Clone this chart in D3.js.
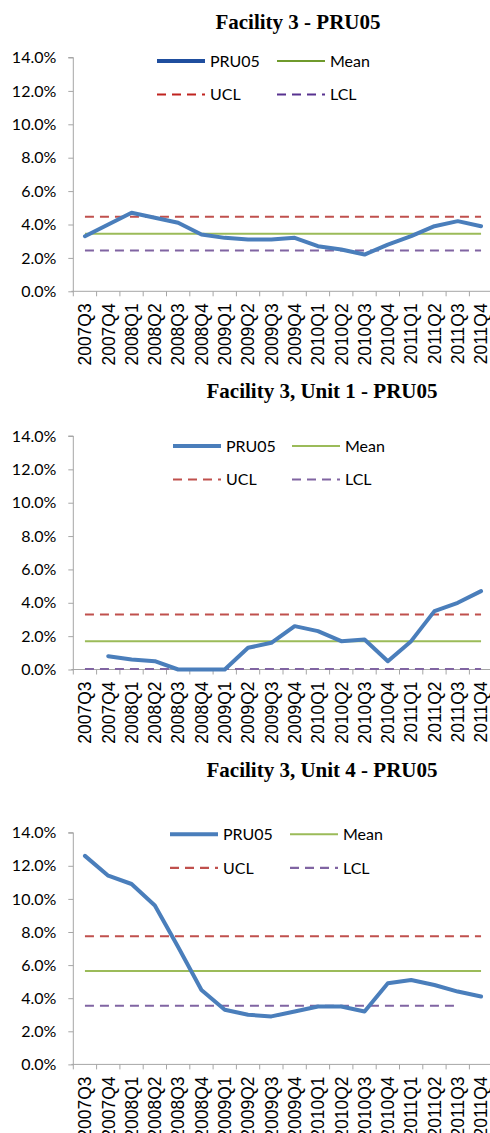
<!DOCTYPE html>
<html><head><meta charset="utf-8">
<script src="https://cdn.jsdelivr.net/npm/d3@7"></script>
<style>
html,body{margin:0;padding:0;background:#fff;}
svg{display:block;}
</style></head>
<body>
<svg id="chart" width="490" height="1133"></svg>
<script>
const categories = ["2007Q3","2007Q4","2008Q1","2008Q2","2008Q3","2008Q4","2009Q1","2009Q2","2009Q3","2009Q4","2010Q1","2010Q2","2010Q3","2010Q4","2011Q1","2011Q2","2011Q3","2011Q4"];
const yTicks = [0,2,4,6,8,10,12,14];

const titles = ["Facility 3 - PRU05","Facility 3, Unit 1 - PRU05","Facility 3, Unit 4 - PRU05"];

const pruFacility3 = [3.3,4.0,4.7,4.4,4.1,3.4,3.2,3.1,3.1,3.2,2.7,2.5,2.2,2.8,3.3,3.9,4.2,3.9];
const pruUnit1     = [null,0.8,0.6,0.5,0.0,0.0,0.0,1.3,1.6,2.6,2.3,1.7,1.8,0.5,1.7,3.5,4.0,4.7];
const pruUnit4     = [12.6,11.4,10.9,9.6,7.1,4.5,3.3,3.0,2.9,3.2,3.5,3.5,3.2,4.9,5.1,4.8,4.4,4.1];

const meanValues = [3.45,1.7,5.65];
const uclValues  = [4.47,3.3,7.75];
const lclValues  = [2.45,0.03,3.55];
const lclLastCategory = ["2011Q4","2011Q4","2011Q3"];

const seriesNames = ["PRU05","Mean","UCL","LCL"];

// layout (pixels)
const panels = [
  {top:57.5, bottom:291.3, titleY:28.5, titleX:298, legY:61, legX:157, legGap:120, legendDark:true},
  {top:436, bottom:669.5, titleY:398, titleX:322, legY:446, legX:173, legGap:119, legendDark:false},
  {top:832.7, bottom:1064.4, titleY:777, titleX:322, legY:834.3, legX:170, legGap:120, legendDark:false}
];
const dataSets = [pruFacility3, pruUnit1, pruUnit4];

const col = {pru:"#4a7ebb", mean:"#9bbb59", ucl:"#c0504d", lcl:"#8064a2"};
const colDark = {pru:"#1f4e9e", mean:"#6f9a2c", ucl:"#c0231f", lcl:"#583290"};

const svg = d3.select("#chart");
const x = d3.scaleBand().domain(categories).range([73.3, 73.3 + 23.3*18]).padding(0);
const cx = c => x(c) + x.bandwidth()/2;

panels.forEach((p, k) => {
  const y = d3.scaleLinear().domain([0,14]).range([p.bottom, p.top]);
  const g = svg.append("g");

  // title
  g.append("text").attr("x", p.titleX).attr("y", p.titleY)
    .attr("text-anchor","middle")
    .style("font-family","'Liberation Serif','Times New Roman',serif")
    .style("font-weight","bold").style("font-size","21px").attr("fill","#000")
    .text(titles[k]);

  // y axis
  const ya = g.append("g").attr("transform", `translate(${x.range()[0]},0)`)
    .call(d3.axisLeft(y).tickValues(yTicks).tickSize(5).tickPadding(12).tickFormat(d => d.toFixed(1) + "%"));
  ya.select(".domain").attr("stroke","#a6a6a6").attr("d", `M-5,${p.top}H0V${p.bottom}`);
  ya.selectAll(".tick line").attr("stroke","#a6a6a6");
  ya.selectAll(".tick text").attr("fill","#000")
    .style("font-family","Lato,'Open Sans',sans-serif").style("font-size","16px");

  // x axis line
  g.append("line").attr("x1", x.range()[0]-2).attr("x2", x.range()[1])
    .attr("y1", p.bottom).attr("y2", p.bottom).attr("stroke","#a6a6a6").attr("stroke-width",1);
  // boundary ticks
  g.selectAll(".bt").data(categories).enter().append("line")
    .attr("x1", d => x(d)).attr("x2", d => x(d))
    .attr("y1", p.bottom).attr("y2", p.bottom + 5).attr("stroke","#a6a6a6");
  // x labels
  g.selectAll(".xl").data(categories).enter().append("text")
    .attr("transform", d => `translate(${cx(d)},${p.bottom + 12}) rotate(-90)`)
    .attr("text-anchor","end").attr("dy","0.36em")
    .style("font-family","'Liberation Sans',Arial,sans-serif").style("font-size","17.5px")
    .attr("fill","#000").text(d => d);

  // control lines
  const first = categories[0];
  const last = categories[categories.length-1];
  g.append("line").attr("x1", cx(first)).attr("x2", cx(last))
    .attr("y1", y(meanValues[k])).attr("y2", y(meanValues[k]))
    .attr("stroke", col.mean).attr("stroke-width", 2);
  g.append("line").attr("x1", cx(first)).attr("x2", cx(last))
    .attr("y1", y(uclValues[k])).attr("y2", y(uclValues[k]))
    .attr("stroke", col.ucl).attr("stroke-width", 2).attr("stroke-dasharray","9,6");
  g.append("line").attr("x1", cx(first)).attr("x2", cx(lclLastCategory[k]))
    .attr("y1", y(lclValues[k])).attr("y2", y(lclValues[k]))
    .attr("stroke", col.lcl).attr("stroke-width", 2).attr("stroke-dasharray","9,6");

  // data line
  const line = d3.line().defined(d => d.v !== null).x(d => cx(d.c)).y(d => y(d.v));
  g.append("path").datum(categories.map((c,i) => ({c, v: dataSets[k][i]})))
    .attr("d", line).attr("fill","none").attr("stroke", col.pru)
    .attr("stroke-width", 4).attr("stroke-linejoin","round").attr("stroke-linecap","round");

  // legend
  const lc = p.legendDark ? colDark : col;
  const items = [
    {name:seriesNames[0], c:lc.pru, w:4, dash:null, row:0, colI:0},
    {name:seriesNames[1], c:lc.mean, w:2, dash:null, row:0, colI:1},
    {name:seriesNames[2], c:lc.ucl, w:2.2, dash:"9,6", row:1, colI:0},
    {name:seriesNames[3], c:lc.lcl, w:2.2, dash:"9,6", row:1, colI:1}
  ];
  items.forEach(it => {
    const lx = p.legX + it.colI * p.legGap;
    const ly = p.legY + it.row * 33.5;
    g.append("line").attr("x1", lx).attr("x2", lx + 48).attr("y1", ly).attr("y2", ly)
      .attr("stroke", it.c).attr("stroke-width", it.w)
      .attr("stroke-dasharray", it.dash);
    g.append("text").attr("x", lx + 53).attr("y", ly).attr("dy","0.36em")
      .style("font-family","Lato,'Open Sans',sans-serif").style("font-size","16px")
      .attr("fill","#000").text(it.name);
  });
});
</script>
</body></html>
